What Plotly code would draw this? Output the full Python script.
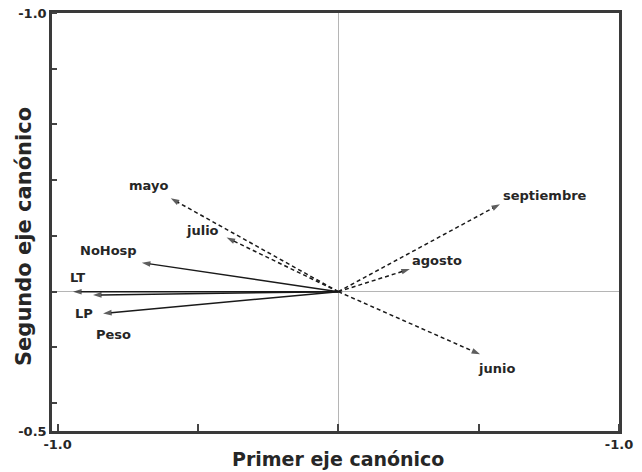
import plotly.graph_objects as go

# Canonical loadings: morphometric variables (solid) and months (dashed)
variables = ["LT", "Peso", "LP", "NoHosp"]
var_x = [-0.945, -0.874, -0.838, -0.700]
var_y = [0.000, -0.012, -0.078, 0.104]

months = ["mayo", "julio", "septiembre", "agosto", "junio"]
month_x = [-0.597, -0.398, 0.576, 0.255, 0.505]
month_y = [0.335, 0.194, 0.314, 0.081, -0.225]

# Axis tick labels as printed on the chart
x_tick_vals = [-1.0, 1.0]
x_tick_text = ["-1.0", "-1.0"]
y_tick_vals = [-0.5, 1.0]
y_tick_text = ["-0.5", "-1.0"]

x_title = "Primer eje canónico"
y_title = "Segundo eje canónico"

# Label offsets from each arrow tip (pixels, x right / y up)
label_offsets = {
    "LT": (4, 14), "Peso": (21, -39), "LP": (-19, 0), "NoHosp": (-33, 12),
    "mayo": (-22, 13), "julio": (-24, 7), "septiembre": (45, 9),
    "agosto": (27, 9), "junio": (16, -14),
}

INK = "#1a1a1a"
TEXT = "#262626"
FONT = "DejaVu Sans"

fig = go.Figure()


def add_vector(name, x, y, dash):
    fig.add_trace(go.Scatter(
        x=[0, x], y=[0, y], mode="lines+markers",
        line=dict(color=INK, width=1.5, dash=dash),
        marker=dict(symbol=["circle", "arrow"], size=[0, 9], color=INK,
                    angleref="previous", line=dict(width=0)),
        hoverinfo="skip", showlegend=False,
    ))
    dx, dy = label_offsets[name]
    fig.add_annotation(x=x, y=y, text=name, showarrow=False,
                       xshift=dx, yshift=dy,
                       font=dict(family=FONT, size=13, color=TEXT, weight="bold"))


for n, x, y in zip(variables, var_x, var_y):
    add_vector(n, x, y, "solid")
for n, x, y in zip(months, month_x, month_y):
    add_vector(n, x, y, "4px,3px")

axis_common = dict(
    showgrid=False, zeroline=True, zerolinecolor="#b5b5b5", zerolinewidth=1,
    showline=True, mirror=True, linecolor="#3a3a3a", linewidth=2.5,
    ticks="", tickmode="array", automargin=False,
    tickfont=dict(family=FONT, size=13, color=TEXT, weight="bold"),
)

fig.update_xaxes(
    range=[-1.02, 1.0], tickvals=x_tick_vals, ticktext=x_tick_text,
    minor=dict(ticks="inside", tick0=0, dtick=0.5, ticklen=7, tickwidth=1.5,
               tickcolor="#444444"),
    **axis_common,
)
fig.update_yaxes(
    range=[-0.5, 1.0], tickvals=y_tick_vals, ticktext=y_tick_text,
    minor=dict(ticks="inside", tick0=0, dtick=0.2, ticklen=5, tickwidth=1.5,
               tickcolor="#444444"),
    **axis_common,
)

# Axis titles
fig.add_annotation(text=x_title, xref="x", yref="paper", x=0, y=0,
                   yanchor="middle", yshift=-28, showarrow=False,
                   font=dict(family=FONT, size=19, color=TEXT, weight="bold"))
fig.add_annotation(text=y_title, xref="paper", yref="paper", x=0, y=0.5,
                   xanchor="center", xshift=-28, yshift=-15, textangle=-90,
                   showarrow=False,
                   font=dict(family=FONT, size=21, color=TEXT, weight="bold"))

fig.update_layout(
    width=642, height=472,
    margin=dict(l=52, r=23, t=13, b=41),
    plot_bgcolor="white", paper_bgcolor="white",
)

fig.write_html("out.html")
